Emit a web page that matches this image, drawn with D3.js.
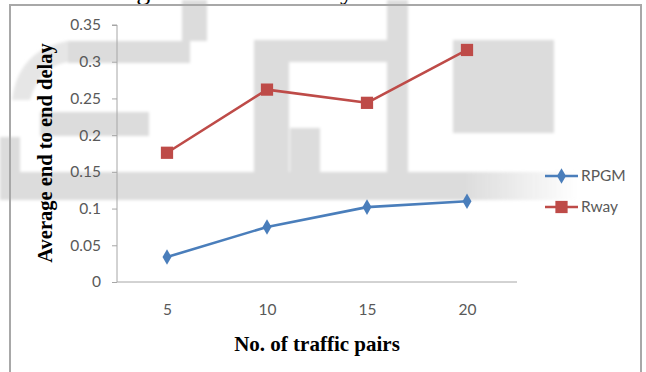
<!DOCTYPE html>
<html>
<head>
<meta charset="utf-8">
<script src="https://cdn.jsdelivr.net/npm/d3@7"></script>
<style>
  html, body { margin: 0; padding: 0; background: #fff; }
  svg { display: block; }
</style>
</head>
<body>
<svg id="chart" width="646" height="372"></svg>
<script>
// Data
const categories = ["5", "10", "15", "20"];
const rpgm = [0.034, 0.075, 0.102, 0.110];
const rway = [0.176, 0.262, 0.244, 0.316];
const yTicks = [0, 0.05, 0.1, 0.15, 0.2, 0.25, 0.3, 0.35];
const seriesNames = ["RPGM", "Rway"];

const svg = d3.select("#chart");
const W = 646, H = 372;

// Background watermark blocks (light grey, soft)
const defs = svg.append("defs");
defs.append("filter").attr("id", "soft")
  .append("feGaussianBlur").attr("stdDeviation", 1.6);
const fade = defs.append("linearGradient").attr("id", "fade")
  .attr("x1", "0").attr("x2", "1").attr("y1", "0").attr("y2", "0");
fade.append("stop").attr("offset", "0").attr("stop-color", "#dcdcdc");
fade.append("stop").attr("offset", "0.8").attr("stop-color", "#dcdcdc");
fade.append("stop").attr("offset", "1").attr("stop-color", "#dcdcdc").attr("stop-opacity", 0);

const wm = svg.append("g").attr("filter", "url(#soft)").attr("fill", "#dcdcdc");
const blocks = [
  [68, 41, 122, 22], [182, 0, 25, 41],
  [40, 112, 109, 24], [0, 137, 20, 40],
  [254, 40, 35, 140], [254, 40, 134, 22], [387, 0, 21, 183],
  [290, 128, 30, 52],
  [453, 40, 101, 93]
];
wm.selectAll("rect.b").data(blocks).join("rect").attr("class", "b")
  .attr("x", d => d[0]).attr("y", d => d[1])
  .attr("width", d => d[2]).attr("height", d => d[3]);
wm.append("rect").attr("x", 0).attr("y", 172).attr("width", 580).attr("height", 28)
  .attr("fill", "url(#fade)");
wm.append("path").attr("fill", "#e6e6e6")
  .attr("d", "M68,41 L68,62 Q40,66 30,100 L12,100 Q18,50 68,41 Z");

// Clipped heading at the top edge
svg.append("text")
  .attr("x", 70).attr("y", -1)
  .attr("font-family", "Liberation Serif, Times New Roman, serif")
  .attr("font-size", 28).attr("fill", "#000")
  .text("Average end to end delay");

// Chart frame
svg.append("path")
  .attr("d", `M10,${H + 5} L10,5 L641,5 L641,${H + 5}`)
  .attr("fill", "none").attr("stroke", "#a8a8a8").attr("stroke-width", 2);

// Scales
const x = d3.scalePoint().domain(categories).range([117, 517]).padding(0.5);
const y = d3.scaleLinear().domain([0, 0.35]).range([282, 25]);

const tickFont = "Lato, 'Open Sans', sans-serif";
const tickColor = "#595959";
const axisColor = "#a6a6a6";

// Y axis
const yAxis = svg.append("g").attr("transform", "translate(117,0)")
  .call(d3.axisLeft(y).tickValues(yTicks).tickSize(5).tickPadding(11)
    .tickFormat(d => String(d)));
yAxis.select(".domain").attr("stroke", axisColor).attr("d", `M-5,${y(0.35)}H0V${y(0)}`);
yAxis.selectAll(".tick line").attr("stroke", axisColor);
yAxis.selectAll("text").attr("font-family", tickFont).attr("font-size", 15.5)
  .attr("fill", tickColor);

// X axis
const xAxis = svg.append("g").attr("transform", "translate(0,282)")
  .call(d3.axisBottom(x).tickSize(0).tickPadding(22));
xAxis.select(".domain").attr("stroke", axisColor).attr("d", "M117,0H517");
xAxis.selectAll("text").attr("font-family", tickFont).attr("font-size", 15.5)
  .attr("fill", tickColor);

// Axis titles
svg.append("text")
  .attr("x", 317).attr("y", 351).attr("text-anchor", "middle")
  .attr("font-family", "Liberation Serif, Times New Roman, serif")
  .attr("font-weight", "bold").attr("font-size", 21).attr("fill", "#000")
  .text("No. of traffic pairs");
svg.append("text")
  .attr("transform", "translate(52,153) rotate(-90)")
  .attr("text-anchor", "middle")
  .attr("font-family", "Liberation Serif, Times New Roman, serif")
  .attr("font-weight", "bold").attr("font-size", 20.5).attr("fill", "#000")
  .text("Average end to end delay");

// Series
const colors = { RPGM: "#4a7ebb", Rway: "#be4b48" };
const series = [
  { name: seriesNames[0], values: rpgm, shape: d3.symbolDiamond, size: 70 },
  { name: seriesNames[1], values: rway, shape: d3.symbolSquare, size: 150 }
];
const line = d3.line().x((d, i) => x(categories[i])).y(d => y(d));

series.forEach(s => {
  svg.append("path").datum(s.values)
    .attr("d", line).attr("fill", "none")
    .attr("stroke", colors[s.name]).attr("stroke-width", 2.6)
    .attr("stroke-linejoin", "round");
  svg.selectAll(null).data(s.values).join("path")
    .attr("transform", (d, i) => `translate(${x(categories[i])},${y(d)})`)
    .attr("d", d3.symbol().type(s.shape).size(s.size))
    .attr("fill", colors[s.name]);
});

// Legend
const legendY = [176, 207];
series.forEach((s, i) => {
  const g = svg.append("g").attr("transform", `translate(545,${legendY[i]})`);
  g.append("line").attr("x1", 0).attr("x2", 33)
    .attr("stroke", colors[s.name]).attr("stroke-width", 2.6);
  g.append("path").attr("transform", "translate(16.5,0)")
    .attr("d", d3.symbol().type(s.shape).size(s.size))
    .attr("fill", colors[s.name]);
  g.append("text").attr("x", 36).attr("dy", "0.35em")
    .attr("font-family", tickFont).attr("font-size", 15.5).attr("fill", tickColor)
    .text(s.name);
});
</script>
</body>
</html>
